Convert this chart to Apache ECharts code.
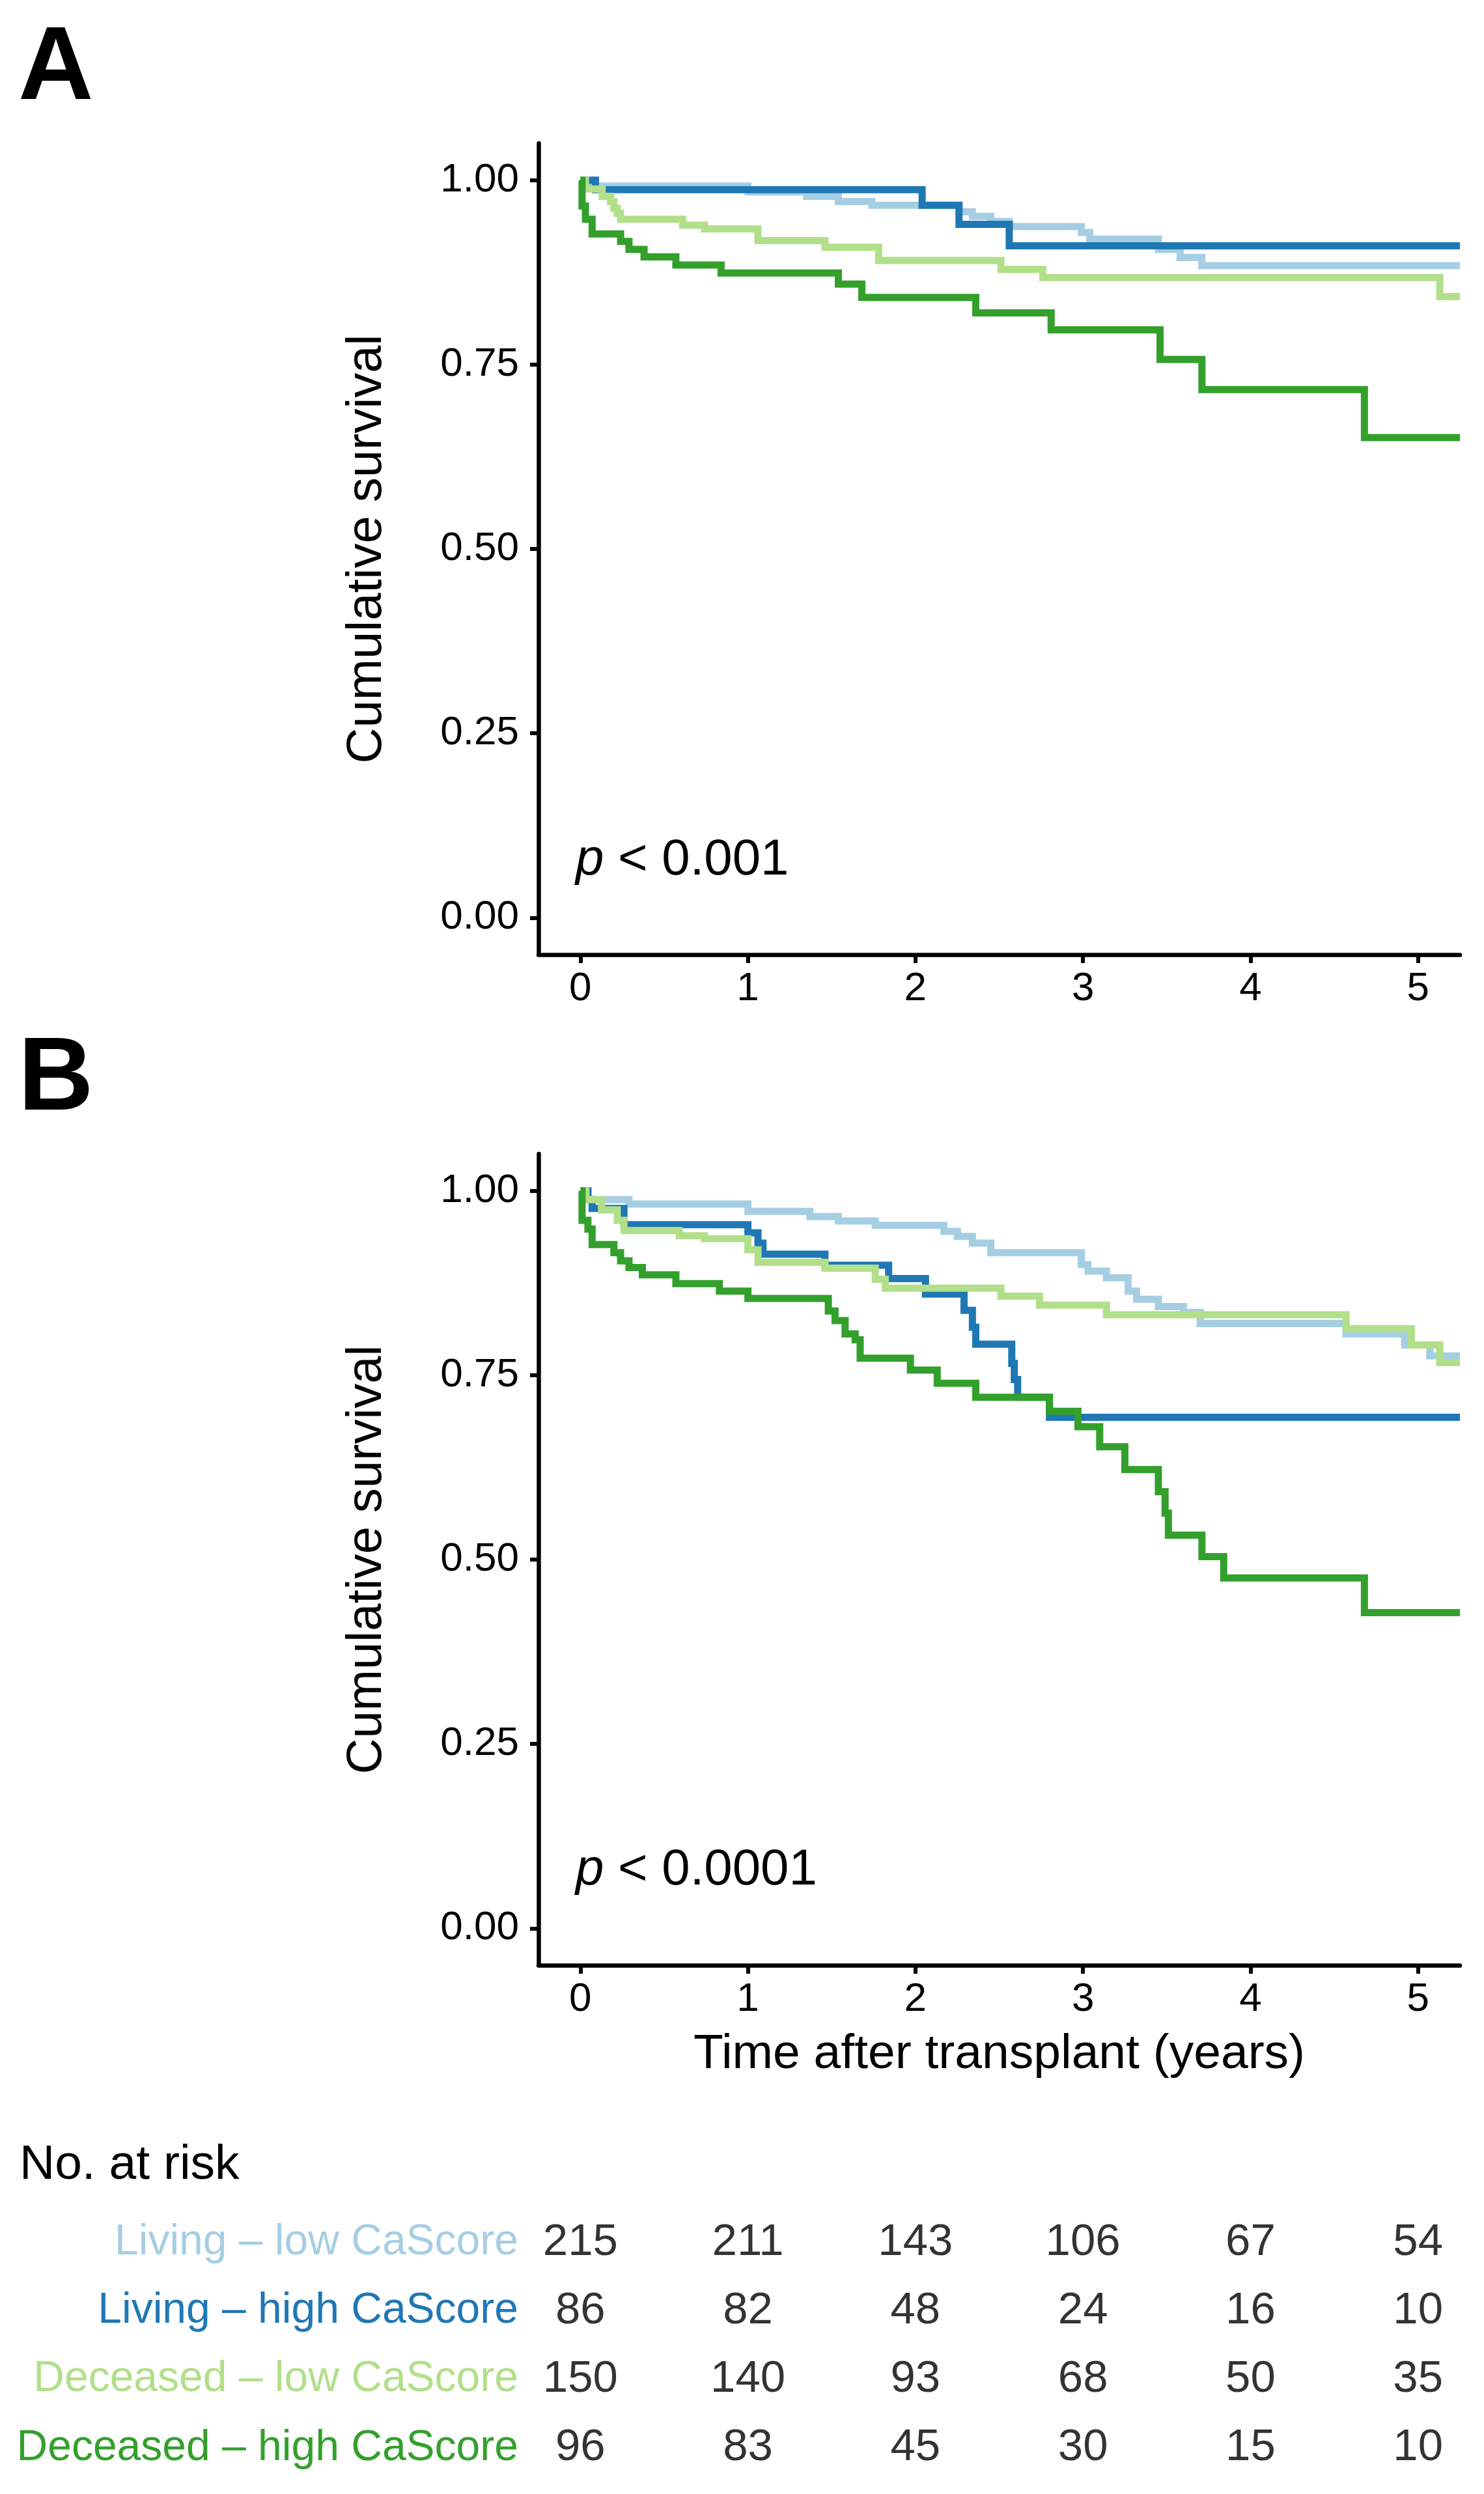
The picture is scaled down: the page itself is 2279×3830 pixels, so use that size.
<!DOCTYPE html>
<html>
<head>
<meta charset="utf-8">
<title>Survival by donor type and CaScore</title>
<script src="https://cdn.jsdelivr.net/npm/echarts@6/dist/echarts.min.js"></script>
<style>
  html, body { margin: 0; padding: 0; background: #fff; }
  #chart { width: 2279px; height: 3830px; }
</style>
</head>
<body>
<div id="chart"></div>
<script>
// groups, colours (Paired palette like the original)
var groups = ['Living – low CaScore', 'Living – high CaScore', 'Deceased – low CaScore', 'Deceased – high CaScore'];
var groupColors = ['#A6CEE3', '#1F78B4', '#B2DF8A', '#33A02C'];

var xTicks = [0, 1, 2, 3, 4, 5];
var yTicks = [0, 0.25, 0.5, 0.75, 1];
var END_TIME = 5.25;

// panel A - event times (years) and survival after each step
var timesA_LL = [0.07, 1.00, 1.35, 1.54, 1.74, 2.26, 2.34, 2.45, 2.56, 2.99, 3.04, 3.45, 3.58, 3.71];
var survA_LL  = [0.992, 0.984, 0.978, 0.971, 0.966, 0.957, 0.951, 0.944, 0.937, 0.929, 0.920, 0.906, 0.895, 0.884];
var timesA_LH = [0.09, 2.04, 2.26, 2.56];
var survA_LH  = [0.987, 0.966, 0.940, 0.911];
var timesA_DL = [0.03, 0.13, 0.18, 0.20, 0.22, 0.24, 0.61, 0.74, 1.06, 1.46, 1.78, 2.51, 2.76, 5.13];
var survA_DL  = [0.988, 0.978, 0.971, 0.962, 0.955, 0.947, 0.939, 0.934, 0.918, 0.909, 0.891, 0.879, 0.868, 0.842];
var timesA_DH = [0.01, 0.03, 0.07, 0.24, 0.29, 0.38, 0.57, 0.84, 1.54, 1.68, 2.36, 2.81, 3.46, 3.71, 4.68];
var survA_DH  = [0.965, 0.947, 0.927, 0.917, 0.906, 0.896, 0.885, 0.874, 0.859, 0.841, 0.820, 0.797, 0.757, 0.716, 0.651];

// panel B
var timesB_LL = [0.045, 0.29, 1.00, 1.37, 1.54, 1.76, 2.17, 2.25, 2.34, 2.45, 2.99, 3.03, 3.14, 3.27, 3.32, 3.45, 3.60, 3.70, 4.57, 4.92, 5.07];
var survB_LL  = [0.988, 0.982, 0.972, 0.965, 0.959, 0.953, 0.945, 0.938, 0.929, 0.916, 0.900, 0.891, 0.882, 0.864, 0.853, 0.843, 0.835, 0.820, 0.806, 0.791, 0.776];
var timesB_LH = [0.045, 0.07, 0.26, 1.00, 1.06, 1.09, 1.46, 1.84, 2.06, 2.29, 2.34, 2.36, 2.575, 2.59, 2.61, 2.80];
var survB_LH  = [0.988, 0.976, 0.954, 0.943, 0.929, 0.914, 0.899, 0.881, 0.860, 0.838, 0.815, 0.792, 0.766, 0.744, 0.720, 0.693];
var timesB_DL = [0.033, 0.126, 0.22, 0.26, 0.59, 0.74, 1.00, 1.06, 1.46, 1.76, 1.82, 2.51, 2.74, 3.14, 4.57, 4.96, 5.13];
var survB_DL  = [0.988, 0.974, 0.960, 0.946, 0.939, 0.935, 0.920, 0.903, 0.895, 0.880, 0.868, 0.857, 0.845, 0.832, 0.813, 0.791, 0.767];
var timesB_DH = [0.01, 0.045, 0.07, 0.20, 0.24, 0.29, 0.37, 0.57, 0.83, 1.00, 1.48, 1.52, 1.58, 1.64, 1.67, 1.97, 2.13, 2.36, 2.80, 2.97, 3.10, 3.25, 3.45, 3.49, 3.51, 3.71, 3.84, 4.68];
var survB_DH  = [0.960, 0.948, 0.927, 0.916, 0.905, 0.896, 0.886, 0.874, 0.864, 0.854, 0.837, 0.824, 0.806, 0.798, 0.773, 0.757, 0.739, 0.720, 0.701, 0.680, 0.653, 0.622, 0.592, 0.563, 0.533, 0.504, 0.475, 0.428];

// number at risk table
var riskTimes = [0, 1, 2, 3, 4, 5];
var risk_LL = [215, 211, 143, 106, 67, 54];
var risk_LH = [86, 82, 48, 24, 16, 10];
var risk_DL = [150, 140, 93, 68, 50, 35];
var risk_DH = [96, 83, 45, 30, 15, 10];

var pA = 'p < 0.001';
var pB = 'p < 0.0001';

var FONT = '"Liberation Sans", Arial, Helvetica, sans-serif';

// KM step curve: start at (0,1), end flat at END_TIME
function kmData(times, surv) {
    var d = [[0, 1]];
    for (var i = 0; i < times.length; i++) d.push([times[i], surv[i]]);
    d.push([END_TIME, surv[surv.length - 1]]);
    return d;
}

function kmSeries(idx, times, surv, gi) {
    return {
        name: groups[idx],
        type: 'line',
        step: 'end',
        xAxisIndex: gi,
        yAxisIndex: gi,
        showSymbol: false,
        symbol: 'none',
        data: kmData(times, surv),
        lineStyle: { color: groupColors[idx], width: 11, join: 'miter' },
        itemStyle: { color: groupColors[idx] },
        animation: false,
        z: 2 + idx
    };
}

function xAxisFor(gi, withName) {
    return {
        type: 'value',
        gridIndex: gi,
        min: -0.25,
        max: END_TIME,
        axisLine: { show: true, onZero: false, lineStyle: { color: '#000', width: 6.5 } },
        axisTick: { show: true, length: 13, lineStyle: { color: '#000', width: 6 }, customValues: xTicks },
        axisLabel: { show: true, fontSize: 62, color: '#000', fontFamily: FONT, margin: 22, customValues: xTicks },
        splitLine: { show: false },
        name: withName ? 'Time after transplant (years)' : '',
        nameLocation: 'middle',
        nameGap: 100,
        nameTextStyle: { fontSize: 75, color: '#000', fontFamily: FONT }
    };
}

function yAxisFor(gi) {
    return {
        type: 'value',
        gridIndex: gi,
        min: -0.05,
        max: 1.05,
        axisLine: { show: true, onZero: false, lineStyle: { color: '#000', width: 6.5 } },
        axisTick: { show: true, length: 13, lineStyle: { color: '#000', width: 6 }, customValues: yTicks },
        axisLabel: {
            show: true, fontSize: 62, color: '#000', fontFamily: FONT, margin: 30,
            customValues: yTicks,
            formatter: function (v) { return v.toFixed(2); }
        },
        splitLine: { show: false },
        name: 'Cumulative survival',
        nameLocation: 'middle',
        nameGap: 225,
        nameTextStyle: { fontSize: 76, color: '#000', fontFamily: FONT }
    };
}

var riskRows = [risk_LL, risk_LH, risk_DL, risk_DH];
var riskData = [];
riskRows.forEach(function (row, r) {
    row.forEach(function (n, c) { riskData.push([riskTimes[c], r, n]); });
});

function pText(str, y) {
    var rest = str.slice(1);
    return {
        type: 'text', left: 884, top: y,
        style: {
            text: '{it|p}{n|' + rest + '}',
            rich: {
                it: { fontSize: 78, fontStyle: 'italic', fontFamily: FONT, fill: '#000' },
                n: { fontSize: 78, fontFamily: FONT, fill: '#000' }
            },
            fill: '#000'
        }
    };
}

var chart = echarts.init(document.getElementById('chart'), null, { renderer: 'canvas' });

var option = {
    backgroundColor: '#fff',
    animation: false,
    grid: [
        { left: 827, top: 220, width: 1415, height: 1246, outerBoundsMode: 'none', containLabel: false },
        { left: 827, top: 1772, width: 1415, height: 1246, outerBoundsMode: 'none', containLabel: false },
        { left: 827, top: 3391, width: 1415, height: 421, outerBoundsMode: 'none', containLabel: false }
    ],
    xAxis: [
        xAxisFor(0, false),
        xAxisFor(1, true),
        { type: 'value', gridIndex: 2, min: -0.25, max: END_TIME, show: false }
    ],
    yAxis: [
        yAxisFor(0),
        yAxisFor(1),
        {
            type: 'category',
            gridIndex: 2,
            data: groups,
            inverse: true,
            axisLine: { show: false },
            axisTick: { show: false },
            splitLine: { show: false },
            axisLabel: {
                fontSize: 66, fontFamily: FONT, margin: 31,
                color: function (v, i) { return groupColors[groups.indexOf(v)]; }
            }
        }
    ],
    series: [
        kmSeries(0, timesA_LL, survA_LL, 0),
        kmSeries(1, timesA_LH, survA_LH, 0),
        kmSeries(2, timesA_DL, survA_DL, 0),
        kmSeries(3, timesA_DH, survA_DH, 0),
        kmSeries(0, timesB_LL, survB_LL, 1),
        kmSeries(1, timesB_LH, survB_LH, 1),
        kmSeries(2, timesB_DL, survB_DL, 1),
        kmSeries(3, timesB_DH, survB_DH, 1),
        {
            type: 'scatter',
            xAxisIndex: 2,
            yAxisIndex: 2,
            symbolSize: 0,
            data: riskData,
            label: {
                show: true, position: 'inside', fontSize: 69, fontFamily: FONT, color: '#000',
                formatter: function (p) { return String(p.value[2]); }
            },
            animation: false
        }
    ],
    graphic: [
        { type: 'text', left: 28, top: 28, style: { text: 'A', fontSize: 160, fontWeight: 'bold', fontFamily: FONT, fill: '#000' } },
        { type: 'text', left: 28, top: 1580, style: { text: 'B', fontSize: 160, fontWeight: 'bold', fontFamily: FONT, fill: '#000' } },
        pText(pA, 1282),
        pText(pB, 2833),
        { type: 'text', left: 30, top: 3288, style: { text: 'No. at risk', fontSize: 75, fontFamily: FONT, fill: '#000' } }
    ]
};

chart.setOption(option);
</script>
</body>
</html>
